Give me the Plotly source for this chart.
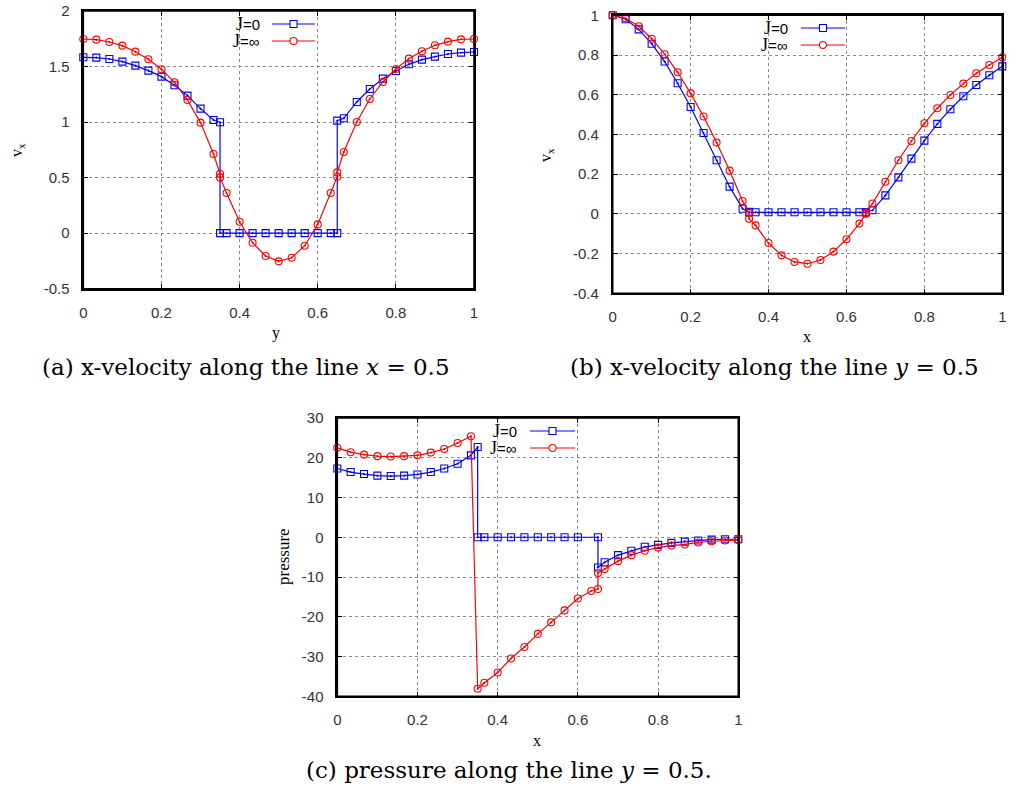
import plotly.graph_objects as go

# ---------------- data ----------------
# x positions (grid of 1/30 plus the interface points 0.35 and 0.65)
x_left = [0, 0.0333, 0.0667, 0.1, 0.1333, 0.1667, 0.2, 0.2333, 0.2667, 0.3, 0.3333]
x_mid = [0.3667, 0.4, 0.4333, 0.4667, 0.5, 0.5333, 0.5667, 0.6, 0.6333]
x_right = [0.6667, 0.7, 0.7333, 0.7667, 0.8, 0.8333, 0.8667, 0.9, 0.9333, 0.9667, 1.0]

x_full = x_left + [0.35, 0.35] + x_mid + [0.65, 0.65] + x_right

# (a) v_x along x = 0.5 (abscissa y)
va_J0 = [1.583, 1.580, 1.568, 1.544, 1.508, 1.463, 1.409, 1.331, 1.238, 1.121, 1.019,
         0.998, 0.0,
         0, 0, 0, 0, 0, 0, 0, 0, 0,
         0.0, 1.013,
         1.034, 1.181, 1.298, 1.391, 1.460, 1.520, 1.562, 1.589, 1.613, 1.625, 1.631]
va_Jinf = [1.748, 1.742, 1.721, 1.688, 1.634, 1.565, 1.475, 1.358, 1.199, 0.995, 0.713,
           0.535, 0.502,
           0.361, 0.103, -0.086, -0.206, -0.254, -0.221, -0.113, 0.079, 0.361,
           0.508, 0.547,
           0.730, 1.001, 1.208, 1.361, 1.478, 1.571, 1.637, 1.691, 1.724, 1.745, 1.748]

# (b) v_x along y = 0.5
vb_J0 = [1.0, 0.980, 0.929, 0.857, 0.767, 0.658, 0.538, 0.407, 0.270, 0.137, 0.026,
         0.010, 0.008,
         0.008, 0.008, 0.008, 0.008, 0.008, 0.008, 0.008, 0.008, 0.008,
         0.008, 0.008,
         0.018, 0.093, 0.184, 0.278, 0.369, 0.453, 0.527, 0.592, 0.649, 0.698, 0.743]
vb_Jinf = [1.0, 0.985, 0.945, 0.882, 0.804, 0.713, 0.607, 0.490, 0.359, 0.218, 0.065,
           0.005, -0.025,
           -0.058, -0.147, -0.209, -0.242, -0.251, -0.232, -0.190, -0.128, -0.049,
           0.0, 0.005,
           0.052, 0.162, 0.270, 0.367, 0.456, 0.532, 0.599, 0.656, 0.708, 0.750, 0.788]

# (c) pressure along y = 0.5
xc_J0 = x_left + [0.35, 0.35] + [0.3667, 0.4, 0.4333, 0.4667, 0.5, 0.5333, 0.5667, 0.6] + [0.65, 0.65] + x_right
pc_J0 = [17.3, 16.4, 15.9, 15.5, 15.4, 15.5, 15.8, 16.4, 17.3, 18.5, 20.6,
         22.7, 0.0,
         0, 0, 0, 0, 0, 0, 0, 0,
         0.0, -7.6,
         -6.3, -4.5, -3.4, -2.4, -1.9, -1.4, -1.1, -0.8, -0.6, -0.5, -0.5]
xc_Jinf = x_left + [0.35] + x_mid + [0.65, 0.65] + x_right
pc_Jinf = [22.5, 21.4, 20.8, 20.4, 20.3, 20.4, 20.6, 21.3, 22.2, 23.7, 25.4,
           -38.1,
           -36.6, -34.0, -30.5, -27.6, -24.3, -21.4, -18.4, -15.4, -13.5,
           -13.0, -9.0,
           -8.0, -6.0, -4.5, -3.4, -2.6, -2.1, -1.8, -1.3, -1.0, -0.8, -0.7]

# tick labels
x_tickvals = [0, 0.2, 0.4, 0.6, 0.8, 1]
x_ticktext = ["0", "0.2", "0.4", "0.6", "0.8", "1"]
ya_tickvals = [-0.5, 0, 0.5, 1, 1.5, 2]
ya_ticktext = ["-0.5", "0", "0.5", "1", "1.5", "2"]
yb_tickvals = [-0.4, -0.2, 0, 0.2, 0.4, 0.6, 0.8, 1]
yb_ticktext = ["-0.4", "-0.2", "0", "0.2", "0.4", "0.6", "0.8", "1"]
yc_tickvals = [-40, -30, -20, -10, 0, 10, 20, 30]
yc_ticktext = ["-40", "-30", "-20", "-10", "0", "10", "20", "30"]

series_names = ["J=0", "J=∞"]
legend_labels = ['<span style="font-family:Liberation Serif;font-size:18px">J</span>=0',
                 '<span style="font-family:Liberation Serif;font-size:18px">J</span>=∞']
captions = ["(a) x-velocity along the line <i>x</i> = 0.5",
            "(b) x-velocity along the line <i>y</i> = 0.5",
            "(c) pressure along the line <i>y</i> = 0.5."]

# ---------------- styling ----------------
W, H = 1010, 789
BLUE = "#0000ff"
RED = "#ff0000"
SANS = "Liberation Sans"
SERIF = "Liberation Serif"
CAP_FONT = "DejaVu Serif"

def px_x(p):
    return p / W

def px_y(p):
    return 1 - p / H

panels = {
    "a": dict(x0=83.3, x1=474.0, y0=11.0, y1=288.7),
    "b": dict(x0=612.7, x1=1002.3, y0=15.3, y1=293.3),
    "c": dict(x0=337.3, x1=738.3, y0=418.0, y1=696.3),
}

fig = go.Figure()

def add_pair(xs1, ys1, xs2, ys2, xa, ya):
    fig.add_trace(go.Scatter(x=xs1, y=ys1, mode="lines+markers", name=series_names[0],
                             xaxis=xa, yaxis=ya, showlegend=False, cliponaxis=False,
                             line=dict(color=BLUE, width=1.2),
                             marker=dict(symbol="square-open-dot", size=7, color=BLUE,
                                         line=dict(width=1.1, color=BLUE))))
    fig.add_trace(go.Scatter(x=xs2, y=ys2, mode="lines+markers", name=series_names[1],
                             xaxis=xa, yaxis=ya, showlegend=False, cliponaxis=False,
                             line=dict(color=RED, width=1.2),
                             marker=dict(symbol="circle-open-dot", size=7, color=RED,
                                         line=dict(width=1.1, color=RED))))

add_pair(x_full, va_J0, x_full, va_Jinf, "x", "y")
add_pair(x_full, vb_J0, x_full, vb_Jinf, "x2", "y2")
add_pair(xc_J0, pc_J0, xc_Jinf, pc_Jinf, "x3", "y3")

axis_common = dict(showline=True, linecolor="black", linewidth=1.6, mirror="ticks",
                   ticks="inside", ticklen=5, tickwidth=1, tickcolor="black",
                   showgrid=True, gridcolor="#8a8a8a", griddash="dot", gridwidth=1,
                   zeroline=False, layer="below traces",
                   tickfont=dict(family=SANS, size=15, color="#333"))

def set_axes(key, xname, yname, yr, ytv, ytt, anchor_x, anchor_y):
    p = panels[key]
    fig.layout[xname] = dict(axis_common, domain=[px_x(p["x0"]), px_x(p["x1"])],
                             range=[0, 1], tickvals=x_tickvals, ticktext=x_ticktext,
                             anchor=anchor_y, ticklabelstandoff=9)
    fig.layout[yname] = dict(axis_common, domain=[px_y(p["y1"]), px_y(p["y0"])],
                             range=yr, tickvals=ytv, ticktext=ytt,
                             anchor=anchor_x, ticklabelstandoff=9)

set_axes("a", "xaxis", "yaxis", [-0.5, 2], ya_tickvals, ya_ticktext, "x", "y")
set_axes("b", "xaxis2", "yaxis2", [-0.4, 1], yb_tickvals, yb_ticktext, "x2", "y2")
set_axes("c", "xaxis3", "yaxis3", [-40, 30], yc_tickvals, yc_ticktext, "x3", "y3")

annotations = []
shapes = []

def text(x, y, s, size, family=SERIF, angle=0, xanchor="center"):
    annotations.append(dict(x=px_x(x), y=px_y(y), xref="paper", yref="paper", text=s,
                            showarrow=False, textangle=angle, xanchor=xanchor,
                            yanchor="middle", font=dict(family=family, size=size, color="black")))

# axis titles
text(276, 333, "y", 16)
text(18, 150, "v<sub>x</sub>", 16, angle=-90)
text(807, 336, "x", 16)
text(547, 155, "v<sub>x</sub>", 16, angle=-90)
text(537, 740, "x", 16)
text(283, 557, "pressure", 17, angle=-90)

# captions
text(246, 367, captions[0], 23, family=CAP_FONT)
text(774, 367, captions[1], 23, family=CAP_FONT)
text(509, 770, captions[2], 23, family=CAP_FONT)

# frames (gnuplot border)
for p in panels.values():
    shapes.append(dict(type="rect", xref="paper", yref="paper",
                       x0=px_x(p["x0"]), x1=px_x(p["x1"]), y0=px_y(p["y1"]), y1=px_y(p["y0"]),
                       line=dict(color="black", width=1.6), layer="above"))

# legends (gnuplot style: text then sample)
legends = [
    dict(tx=262, y1=24, y2=41, l0=272, l1=315),
    dict(tx=790, y1=28, y2=45, l0=801, l1=845),
    dict(tx=519, y1=431, y2=448, l0=530, l1=575),
]
for lg in legends:
    for yy, name, col, sym in [(lg["y1"], legend_labels[0], BLUE, "rect"),
                               (lg["y2"], legend_labels[1], RED, "circle")]:
        text(lg["tx"], yy, name, 15, family=SANS, xanchor="right")
        shapes.append(dict(type="line", xref="paper", yref="paper",
                           x0=px_x(lg["l0"]), x1=px_x(lg["l1"]), y0=px_y(yy), y1=px_y(yy),
                           line=dict(color=col, width=1.2)))
        cx = (lg["l0"] + lg["l1"]) / 2
        shapes.append(dict(type=sym, xref="paper", yref="paper",
                           x0=px_x(cx - 3.5), x1=px_x(cx + 3.5), y0=px_y(yy + 3.5), y1=px_y(yy - 3.5),
                           line=dict(color=col, width=1.1), fillcolor="white"))

fig.update_layout(template="none", width=W, height=H, autosize=False,
                  margin=dict(l=0, r=0, t=0, b=0, pad=0),
                  paper_bgcolor="white", plot_bgcolor="white",
                  annotations=annotations, shapes=shapes)

fig.write_html("out.html", config={"displayModeBar": False},
               post_script="document.body.style.margin='0';document.body.style.overflow='hidden';")
